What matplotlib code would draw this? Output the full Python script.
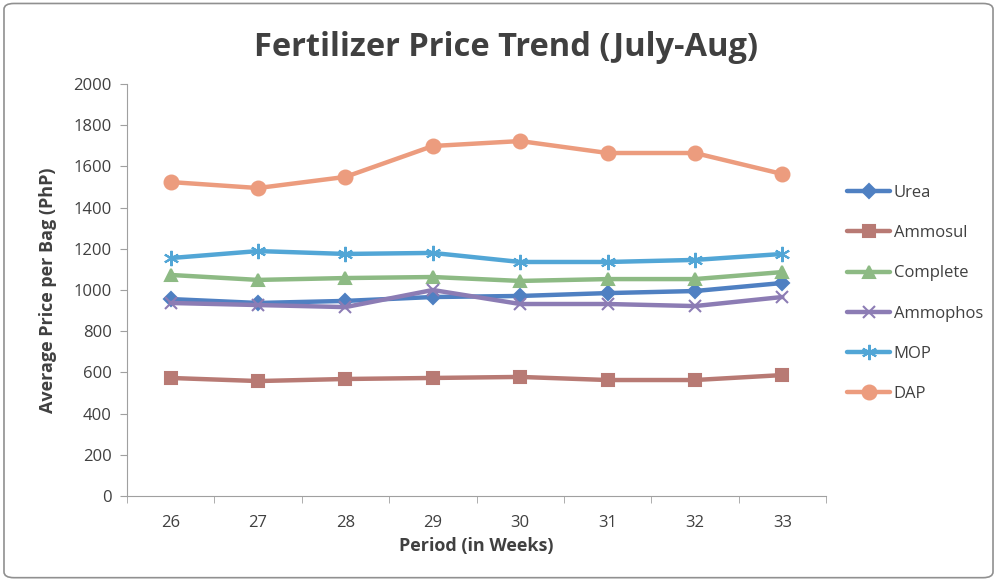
import matplotlib.pyplot as plt
from matplotlib.patches import FancyBboxPatch

plt.rcParams['font.family'] = ['Open Sans', 'DejaVu Sans']

weeks = ['26', '27', '28', '29', '30', '31', '32', '33']
urea = [956, 937, 947, 966, 971, 985, 995, 1034]
ammosul = [573, 558, 568, 573, 578, 563, 563, 587]
complete = [1073, 1049, 1058, 1063, 1044, 1053, 1053, 1087]
ammophos = [937, 927, 917, 1000, 932, 932, 922, 966]
mop = [1155, 1189, 1175, 1180, 1136, 1136, 1146, 1175]
dap = [1524, 1495, 1549, 1699, 1723, 1665, 1665, 1563]

names = ['Urea', 'Ammosul', 'Complete', 'Ammophos', 'MOP', 'DAP']
series = [urea, ammosul, complete, ammophos, mop, dap]
# colours as they look in the (slightly faded) scan
colors = ['#4f80c2', '#b87a74', '#8dba84', '#8c7cb4', '#52a6d6', '#ec9c7e']
markers = ['D', 's', '^', 'x', (6, 2, 0), 'o']
msizes = [7, 9, 9, 9, 11, 10]

fig = plt.figure(figsize=(9.97, 5.80), dpi=100)
ax = fig.add_axes([127 / 997, 84 / 580, 699 / 997, 412 / 580])

x = range(len(weeks))
for vals, name, c, m, ms in zip(series, names, colors, markers, msizes):
    ax.plot(x, vals, color=c, lw=3.2, marker=m, ms=ms, mew=1.5,
            mec=c, mfc=c, label=name, solid_capstyle='round')

ax.set_xlim(-0.5, len(weeks) - 0.5)
ax.set_ylim(0, 2000)
ax.set_yticks(range(0, 2001, 200))
ax.set_xticks(list(x))
ax.set_xticklabels(weeks)
ax.set_xticks([i - 0.5 for i in range(len(weeks) + 1)], minor=True)
ax.tick_params(axis='x', which='major', length=0, pad=14, labelsize=12, colors='#404040')
ax.tick_params(axis='x', which='minor', length=5, color='#a0a0a0')
ax.tick_params(axis='y', length=5, color='#a0a0a0', labelsize=12, labelcolor='#404040', pad=6)
for s in ['top', 'right']:
    ax.spines[s].set_visible(False)
for s in ['left', 'bottom']:
    ax.spines[s].set_color('#a0a0a0')

ax.set_xlabel('Period (in Weeks)', fontsize=13, fontweight='bold', color='#404040', labelpad=4)
ax.set_ylabel('Average Price per Bag (PhP)', fontsize=13, fontweight='bold', color='#404040', labelpad=12)

fig.text(506 / 997, 1 - 47 / 580, 'Fertilizer Price Trend (July-Aug)', fontsize=23.5,
         fontweight='bold', color='#404040', ha='center', va='center')

ax.legend(loc='upper left', bbox_to_anchor=(832 / 997, 1 - 170 / 580),
          bbox_transform=fig.transFigure, frameon=False, fontsize=12,
          labelspacing=1.45, handlelength=2.6, handletextpad=0.2,
          labelcolor='#404040')

fig.patches.append(FancyBboxPatch((0.004, 0.004), 0.992, 0.99,
                                  boxstyle='round,pad=0,rounding_size=0.01',
                                  transform=fig.transFigure, fill=False,
                                  ec='#909090', lw=1.2))

fig.savefig('out.png', dpi=100)
